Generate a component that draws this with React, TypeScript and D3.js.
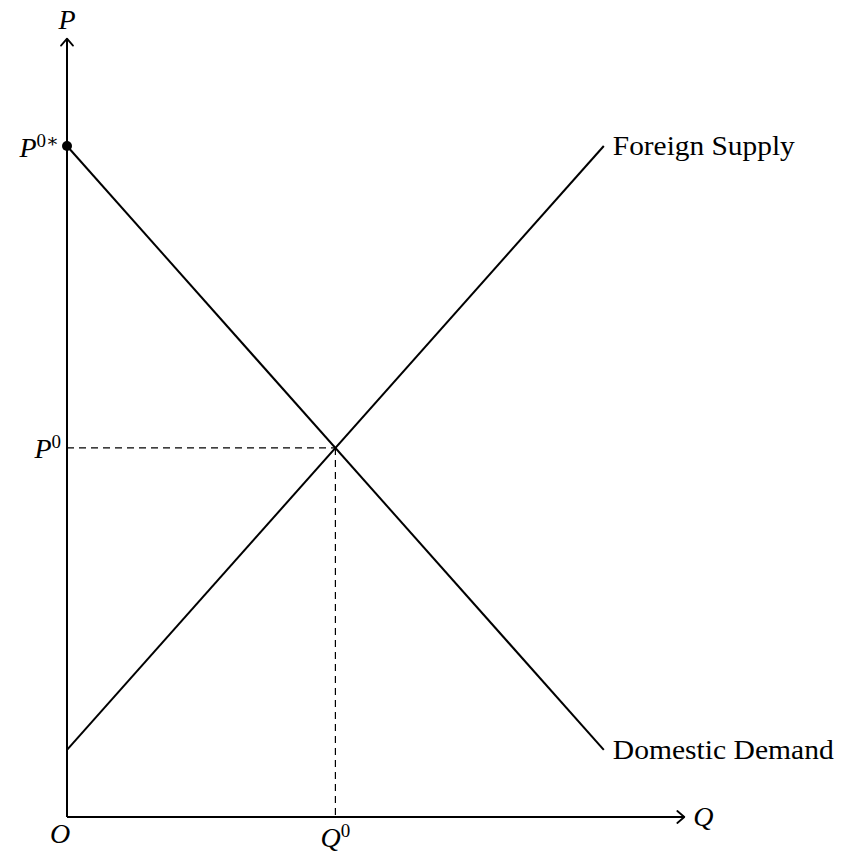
import React from "react";
import * as d3 from "d3";

const demandPoints: [number, number][] = [[0, 10], [8, 1]];
const supplyPoints: [number, number][] = [[0, 1], [8, 10]];
const equilibrium: [number, number] = [4, 5.5];
const curveLabels = ["Foreign Supply", "Domestic Demand"];
const axisLabels = ["P", "Q", "O"];

const W = 850, H = 853;
const x0 = 67, y0 = 817, unit = 67.1;

export default function App() {
  const x = d3.scaleLinear().domain([0, 1]).range([x0, x0 + unit]);
  const y = d3.scaleLinear().domain([0, 1]).range([y0, y0 - unit]);
  const line = d3.line<[number, number]>().x(d => x(d[0])).y(d => y(d[1]));
  const font = "'Liberation Serif', 'DejaVu Serif', serif";
  const xEnd = x(9.2), yEnd = y(11.6);
  const ex = x(equilibrium[0]), ey = y(equilibrium[1]);
  const sEnd = supplyPoints[1], dEnd = demandPoints[1];
  return (
    <svg width={W} height={H} style={{ position: "absolute", left: 0, top: 0, background: "#fff" }}>
      {/* axes */}
      <line x1={x0} y1={y0} x2={xEnd} y2={y0} stroke="#000" strokeWidth={2} />
      <line x1={x0} y1={y0} x2={x0} y2={yEnd} stroke="#000" strokeWidth={2} />
      <path d={`M${xEnd - 7},${y0 - 6} L${xEnd},${y0} L${xEnd - 7},${y0 + 6}`} fill="none" stroke="#000" strokeWidth={1.8} strokeLinecap="round" strokeLinejoin="round" />
      <path d={`M${x0 - 6},${yEnd + 7} L${x0},${yEnd} L${x0 + 6},${yEnd + 7}`} fill="none" stroke="#000" strokeWidth={1.8} strokeLinecap="round" strokeLinejoin="round" />
      {/* dashed guides */}
      <line x1={x0} y1={ey} x2={ex} y2={ey} stroke="#000" strokeWidth={1.2} strokeDasharray="7,5" />
      <line x1={ex} y1={ey} x2={ex} y2={y0} stroke="#000" strokeWidth={1.2} strokeDasharray="7,5" />
      {/* curves */}
      <path d={line(demandPoints) || ""} fill="none" stroke="#000" strokeWidth={2} />
      <path d={line(supplyPoints) || ""} fill="none" stroke="#000" strokeWidth={2} />
      <circle cx={x(demandPoints[0][0])} cy={y(demandPoints[0][1])} r={5} fill="#000" />
      {/* curve labels */}
      <text x={x(sEnd[0]) + 9} y={y(sEnd[1]) + 9} fontFamily={font} fontSize={28} textLength={182} lengthAdjust="spacingAndGlyphs">{curveLabels[0]}</text>
      <text x={x(dEnd[0]) + 9} y={y(dEnd[1]) + 9} fontFamily={font} fontSize={28} textLength={221} lengthAdjust="spacingAndGlyphs">{curveLabels[1]}</text>
      {/* axis labels */}
      <text x={x0} y={29} textAnchor="middle" fontFamily={font} fontStyle="italic" fontSize={28}>{axisLabels[0]}</text>
      <text x={xEnd + 9} y={y0 + 9} fontFamily={font} fontStyle="italic" fontSize={28}>{axisLabels[1]}</text>
      <text x={x0 - 7} y={y0 + 26} textAnchor="middle" fontFamily={font} fontStyle="italic" fontSize={28}>{axisLabels[2]}</text>
      <text x={ex} y={y0 + 30} textAnchor="middle" fontFamily={font} fontSize={28}>
        <tspan fontStyle="italic">Q</tspan><tspan fontSize={19} dy={-10}>0</tspan>
      </text>
      <text x={x0 - 6} y={ey + 10} textAnchor="end" fontFamily={font} fontSize={28}>
        <tspan fontStyle="italic">P</tspan><tspan fontSize={19} dy={-10}>0</tspan>
      </text>
      <text x={x0 - 8} y={y(demandPoints[0][1]) + 11} textAnchor="end" fontFamily={font} fontSize={28}>
        <tspan fontStyle="italic">P</tspan><tspan fontSize={19} dy={-10}>0∗</tspan>
      </text>
    </svg>
  );
}
